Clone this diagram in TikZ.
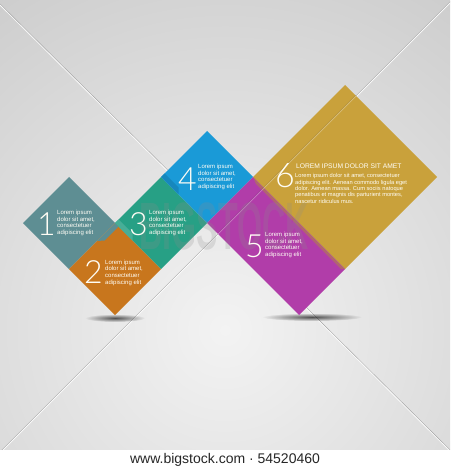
\documentclass[tikz,border=0pt]{standalone}
\usepackage{fontspec}
\setmainfont{Liberation Sans}
\IfFontExistsTF{Lato Light}{\newfontfamily\thinfont{Lato Light}}{%
  \IfFontExistsTF{Lato Thin}{\newfontfamily\thinfont{Lato Thin}}{\newfontfamily\thinfont{Liberation Sans}}}
\usetikzlibrary{fadings}
\definecolor{bgin}{HTML}{F3F3F3}
\definecolor{bgout}{HTML}{A8A8A8}
\definecolor{cslate}{HTML}{5E8E93}
\definecolor{corange}{HTML}{C8761D}
\definecolor{cgreen}{HTML}{27A085}
\definecolor{cblue}{HTML}{1A9AD7}
\definecolor{cmag}{HTML}{B13DA9}
\definecolor{cgold}{HTML}{C9A13B}
\definecolor{ctext}{HTML}{FFFDF5}
\tikzfading[name=softshadow, inner color=transparent!35, outer color=transparent!100]
\tikzset{
  smalltxt/.style={font=\fontsize{6}{6.7}\selectfont, text=ctext, align=left, inner sep=0pt, anchor=north west},
  digit/.style={font=\thinfont\fontsize{32}{32}\selectfont, text=ctext, inner sep=0pt, anchor=base east},
  linedark/.style={draw=black!35, line width=0.6pt},
  linelight/.style={draw=white, line width=0.8pt, opacity=0.85},
  tileshadow/.style={fill=black, path fading=softshadow},
}
\begin{document}
\begin{tikzpicture}[x=1pt,y=-1pt]
\useasboundingbox (0,0) rectangle (450,470);
% background
\fill[white] (0,0) rectangle (450,470);
\begin{scope}
  \clip (0,0) rectangle (450,449);
  \shade[inner color=bgin, outer color=bgout] (225,330) circle (800pt);
  \coordinate (la1) at (0,4);
  \coordinate (la2) at (450,450);
  \coordinate (lb1) at (452,0);
  \coordinate (lb2) at (0,452);
  \draw[linedark] (la1) -- (la2);
  \draw[linelight, transform canvas={yshift=-1pt}] (la1) -- (la2);
  \draw[linedark] (lb1) -- (lb2);
  \draw[linelight, transform canvas={yshift=-1pt}] (lb1) -- (lb2);
\end{scope}
% shadows
\fill[tileshadow] (115,318) ellipse (30pt and 4pt);
\fill[tileshadow] (312,317) ellipse (50pt and 4pt);
% tiles
\fill[cslate]  (23,223) -- (69,177) -- (115,223) -- (69,269) -- cycle;
\fill[corange] (69,269) -- (115,223) -- (161,269) -- (115,315) -- cycle;
\fill[cslate]  (115,223) -- (118.5,226.5) -- (104.5,240.5) -- (97,241) -- cycle;
\fill[cgreen]  (115,223) -- (161,177) -- (207,223) -- (161,269) -- cycle;
\fill[cgreen!85!white] (115,223) -- (118.5,219.5) -- (132.5,233.5) -- (132.5,240.5) -- cycle;
\fill[cblue]   (161,177) -- (207,131) -- (253,177) -- (207,223) -- cycle;
\fill[cblue!88!black] (161,177) -- (164.5,173.5) -- (178.5,187.5) -- (178.5,194.5) -- cycle;
\fill[cgold]   (253,177) -- (345,85) -- (437,177) -- (345,269) -- cycle;
\fill[cmag]    (207,223) -- (253,177) -- (345,269) -- (299,315) -- cycle;
\fill[cgold!88!black, opacity=0.5] (253,177) -- (345,269) -- (341,269) -- (256,184) -- cycle;
% line over the large tiles
\coordinate (lc1) at (356,96);
\coordinate (lc2) at (218,234);
\draw[white, opacity=0.3, line width=0.8pt] (lc1) -- (lc2);
\draw[black, opacity=0.12, line width=0.6pt, transform canvas={yshift=1pt}] (lc1) -- (lc2);
% watermark
\node[font=\bfseries\fontsize{67}{67}\selectfont, text=black!45, opacity=0.22, xscale=0.48, inner sep=0pt] (wmk) at (224,226) {BIGSTOCK};
% texts
\node[digit] (d1) at (56,235) {1};
\node[smalltxt] (t1) at (57,210) {Lorem ipsum\\dolor sit amet,\\consectetuer\\adipiscing elit};
\node[digit] (d2) at (103,283) {2};
\node[smalltxt] (t2) at (105,259.5) {Lorem ipsum\\dolor sit amet,\\consectetuer\\adipiscing elit};
\node[digit] (d3) at (148,235) {3};
\node[smalltxt] (t3) at (149,210) {Lorem ipsum\\dolor sit amet,\\consectetuer\\adipiscing elit};
\node[digit] (d4) at (197,190) {4};
\node[smalltxt] (t4) at (198,164) {Lorem ipsum\\dolor sit amet,\\consectetuer\\adipiscing elit};
\node[digit] (d5) at (264,257) {5};
\node[smalltxt] (t5) at (265,232) {Lorem ipsum\\dolor sit amet,\\consectetuer\\adipiscing elit};
\node[digit, font=\thinfont\fontsize{34}{34}\selectfont] (d6) at (295,187) {6};
\node[font=\fontsize{6.7}{6.7}\selectfont, text=ctext, inner sep=0pt, anchor=base west] (h6) at (296,168) {LOREM IPSUM DOLOR SIT AMET};
\node[smalltxt, font=\fontsize{5.7}{6.3}\selectfont] (t6) at (295,173.5) {Lorem ipsum dolor sit amet, consectetuer\\adipiscing elit. Aenean commodo ligula eget\\dolor. Aenean massa. Cum sociis natoque\\penatibus et magnis dis parturient montes,\\nascetur ridiculus mus.};
% footer
\node[font=\fontsize{14}{14}\selectfont, text=black!85, inner sep=0pt] (foot) at (225,459.5) {www.bigstock.com · 54520460};
\end{tikzpicture}
\end{document}
